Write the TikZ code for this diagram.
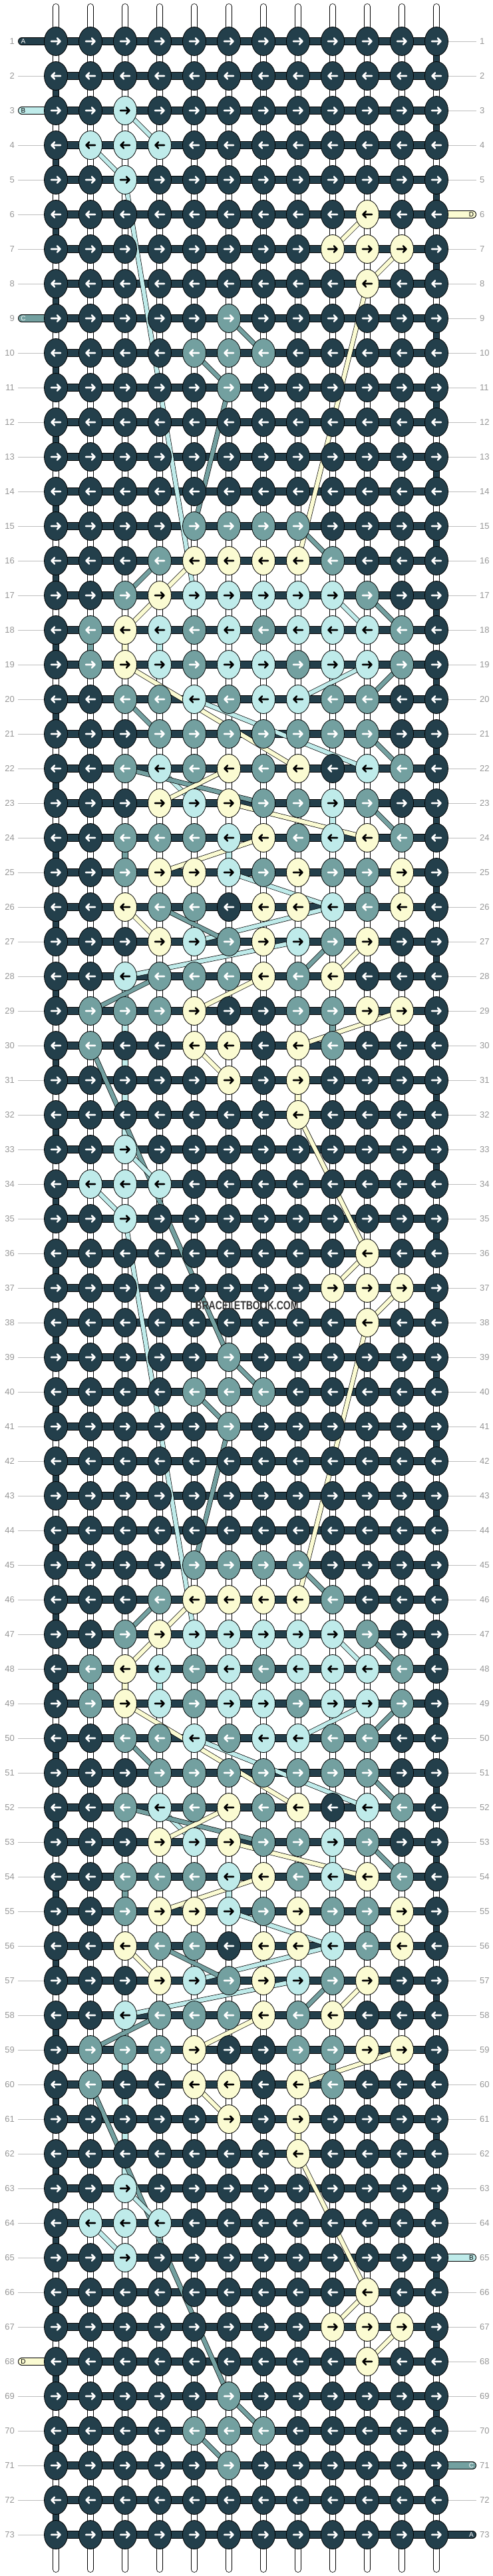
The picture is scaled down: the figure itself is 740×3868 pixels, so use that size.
\documentclass[tikz,border=0pt]{standalone}
\usepackage{fontspec}
\usepackage{graphicx}
\setmainfont{Liberation Sans}
\usetikzlibrary{shapes.geometric}

\definecolor{knot-dark}{RGB}{35, 63, 75}
\definecolor{knot-cyan}{RGB}{191, 235, 234}
\definecolor{knot-teal}{RGB}{115, 160, 160}
\definecolor{knot-yellow}{RGB}{251, 251, 210}
\definecolor{label-gray}{RGB}{150, 150, 150}
\definecolor{line-gray}{RGB}{190, 190, 190}
\definecolor{mark-gray}{RGB}{55, 55, 55}

% knot colours of one pattern row, left to right
\newcommand\setknotrow[2]{\expandafter\def\csname knotrow#1\endcsname{#2}}
\setknotrow{0}{A,A,A,A,A,A,A,A,A,A,A,A}
\setknotrow{3}{A,A,B,A,A,A,A,A,A,A,A,A}
\setknotrow{4}{A,B,B,B,A,A,A,A,A,A,A,A}
\setknotrow{5}{A,A,B,A,A,A,A,A,A,A,A,A}
\setknotrow{6}{A,A,A,A,A,A,A,A,A,D,A,A}
\setknotrow{7}{A,A,A,A,A,A,A,A,D,D,D,A}
\setknotrow{8}{A,A,A,A,A,A,A,A,A,D,A,A}
\setknotrow{9}{A,A,A,A,A,C,A,A,A,A,A,A}
\setknotrow{10}{A,A,A,A,C,C,C,A,A,A,A,A}
\setknotrow{11}{A,A,A,A,A,C,A,A,A,A,A,A}
\setknotrow{12}{A,A,A,A,A,A,A,A,A,A,A,A}
\setknotrow{13}{A,A,A,A,A,A,A,A,A,A,A,A}
\setknotrow{14}{A,A,A,A,A,A,A,A,A,A,A,A}
\setknotrow{15}{A,A,A,A,C,C,C,C,A,A,A,A}
\setknotrow{16}{A,A,A,C,D,D,D,D,C,A,A,A}
\setknotrow{17}{A,A,C,D,B,B,B,B,B,C,A,A}
\setknotrow{18}{A,C,D,B,C,B,C,B,B,B,C,A}
\setknotrow{19}{A,C,D,B,C,B,B,C,B,B,C,A}
\setknotrow{20}{A,A,C,C,B,C,B,B,C,C,A,A}
\setknotrow{21}{A,A,A,C,C,C,C,C,C,C,A,A}
\setknotrow{22}{A,A,C,B,C,D,C,D,A,B,C,A}
\setknotrow{23}{A,A,A,D,B,D,C,C,B,C,A,A}
\setknotrow{24}{A,A,C,C,C,B,D,C,B,D,C,A}
\setknotrow{25}{A,A,C,D,D,B,C,D,C,C,D,A}
\setknotrow{26}{A,A,D,C,C,A,D,D,B,C,D,A}
\setknotrow{27}{A,A,A,D,B,C,D,B,C,D,A,A}
\setknotrow{28}{A,A,B,C,C,C,D,C,D,A,A,A}
\setknotrow{29}{A,C,C,C,D,A,A,C,C,D,D,A}
\setknotrow{30}{A,C,A,A,D,D,A,D,C,A,A,A}
\setknotrow{31}{A,A,A,A,A,D,A,D,A,A,A,A}
\setknotrow{32}{A,A,A,A,A,A,A,D,A,A,A,A}

\begin{document}
\begin{tikzpicture}[
        x=1pt, y=-1pt,
        base/.style={draw=black, line width=0.8pt, double=white, double distance=8pt, line cap=round},
        bar/.style={draw=black, line width=0.8pt, double=knot-dark, double distance=10.4pt},
        pill/.style={draw=black, line width=0.8pt, double distance=10.4pt, line cap=round},
        thread/.style={draw=black, line width=0.7pt, double distance=6pt},
        arrow colour/.store in=\knotarrow,
        knot/.style={shape=ellipse, draw=black, line width=0.8pt, minimum width=35pt,
            minimum height=43pt, inner sep=0pt,
            path picture={
                \begin{scope}[shift={(path picture bounding box.center)}]
                    \draw[draw=\knotarrow, line width=2.6pt, line cap=round, line join=round]
                        ({-7*\arrdir},0) -- ({6.5*\arrdir},0)
                        ({2*\arrdir},-4.6) -- ({6.5*\arrdir},0) -- ({2*\arrdir},4.6);
                \end{scope}}},
        knot A/.style={fill=knot-dark, arrow colour=white},
        knot B/.style={fill=knot-cyan, arrow colour=black},
        knot C/.style={fill=knot-teal, arrow colour=white},
        knot D/.style={fill=knot-yellow, arrow colour=black},
        label line/.style={draw=line-gray, line width=0.8pt},
        row label/.style={text=label-gray, font=\fontsize{13}{13}\selectfont, inner sep=0pt},
        pill tag/.style={font=\fontsize{10}{10}\selectfont, inner sep=0pt},
    ]
    \useasboundingbox (0,0) rectangle (740,3868);

    % grid of knot positions
    \foreach \r in {1,...,73}
        \foreach \c in {1,...,12}
            \coordinate (p-\r-\c) at ({84+52*(\c-1)}, {62+52*(\r-1)});

    % white base strings
    \foreach \c in {1,...,12} {
        \coordinate (top-\c) at ({84+52*(\c-1)}, 10);
        \coordinate (bot-\c) at ({84+52*(\c-1)}, 3858);
        \draw[base] (top-\c) -- (bot-\c);
    }

    % row number lines and bars
    \foreach \r in {1,...,73} {
        \coordinate (ll-\r) at (27, {62+52*(\r-1)});
        \coordinate (rl-\r) at (716, {62+52*(\r-1)});
        \draw[label line] (ll-\r) -- (p-\r-1);
        \draw[label line] (p-\r-12) -- (rl-\r);
        \draw[bar] (p-\r-1) -- (p-\r-12);
    }

    % strings coming in and going out
    \foreach \r/\pc/\ptag/\tc in {1/knot-dark/A/white, 3/knot-cyan/B/black,
            9/knot-teal/C/white, 68/knot-yellow/D/black} {
        \coordinate (in-\r) at (33, {62+52*(\r-1)});
        \draw[pill, double=\pc] (p-\r-1) -- (in-\r);
        \node[pill tag, text=\tc] (tag-in-\r) at (35, {62+52*(\r-1)}) {\ptag};
    }
    \foreach \r/\pc/\ptag/\tc in {6/knot-yellow/D/black, 65/knot-cyan/B/black,
            71/knot-teal/C/white, 73/knot-dark/A/white} {
        \coordinate (out-\r) at (710, {62+52*(\r-1)});
        \draw[pill, double=\pc] (p-\r-12) -- (out-\r);
        \node[pill tag, text=\tc] (tag-out-\r) at (708.5, {62+52*(\r-1)}) {\ptag};
    }

    % background string turning at the edges
    \foreach \r in {1,...,72} {
        \pgfmathtruncatemacro\rn{\r+1}
        \pgfmathtruncatemacro\ec{ifthenelse(mod(\r,2)==1,12,1)}
        \draw[thread, double=knot-dark, double distance=8pt] (p-\r-\ec) -- (p-\rn-\ec);
    }

    % coloured strings between their knots
    \foreach \off in {0,30,60} {
        \foreach \ra/\ca/\rb/\cb/\tc in {
                3/3/4/4/knot-cyan, 4/2/5/3/knot-cyan, 5/3/17/5/knot-cyan,
                17/9/18/10/knot-cyan, 18/4/19/4/knot-cyan, 19/10/20/8/knot-cyan,
                20/5/22/10/knot-cyan, 22/4/23/5/knot-cyan, 23/9/24/9/knot-cyan,
                24/6/25/6/knot-cyan, 25/6/26/9/knot-cyan, 26/9/27/5/knot-cyan,
                27/8/28/3/knot-cyan, 28/3/33/3/knot-cyan,
                9/6/10/7/knot-teal, 10/5/11/6/knot-teal, 11/6/15/5/knot-teal,
                15/8/16/9/knot-teal, 16/4/17/3/knot-teal, 17/10/18/11/knot-teal,
                18/2/19/2/knot-teal, 19/11/20/10/knot-teal, 20/3/21/4/knot-teal,
                21/10/22/11/knot-teal, 22/3/23/7/knot-teal, 23/10/24/11/knot-teal,
                24/3/25/3/knot-teal, 25/10/26/10/knot-teal, 26/4/27/6/knot-teal,
                27/9/28/8/knot-teal, 28/4/29/2/knot-teal, 29/9/30/9/knot-teal,
                30/2/39/6/knot-teal,
                6/10/7/9/knot-yellow, 7/11/8/10/knot-yellow, 8/10/16/8/knot-yellow,
                16/5/17/4/knot-yellow, 17/4/18/3/knot-yellow, 18/3/19/3/knot-yellow,
                19/3/22/8/knot-yellow, 22/6/23/4/knot-yellow, 23/6/24/10/knot-yellow,
                24/7/25/4/knot-yellow, 25/11/26/11/knot-yellow, 26/3/27/4/knot-yellow,
                27/10/28/9/knot-yellow, 28/7/29/5/knot-yellow, 29/11/30/8/knot-yellow,
                30/5/31/6/knot-yellow, 31/8/32/8/knot-yellow, 32/8/36/10/knot-yellow} {
            \pgfmathtruncatemacro\ta{\ra+\off}
            \pgfmathtruncatemacro\tb{\rb+\off}
            \ifnum\tb<72
                \ifnum\ca=\cb
                    \draw[thread, double=\tc, double distance=8pt] (p-\ta-\ca) -- (p-\tb-\cb);
                \else
                    \draw[thread, double=\tc] (p-\ta-\ca) -- (p-\tb-\cb);
                \fi
            \fi
        }
    }

    % knots, arrows right in odd rows and left in even rows
    \foreach \r in {1,...,73} {
        \pgfmathtruncatemacro\p{ifthenelse(or(\r<3,\r>71),0,mod(\r-3,30)+3)}
        \pgfmathtruncatemacro\arrdir{ifthenelse(mod(\r,2)==1,1,-1)}
        \expandafter\let\expandafter\cells\csname knotrow\p\endcsname
        \foreach \k [count=\c] in \cells
            \node[knot, knot \k] (k-\r-\c) at (p-\r-\c) {};
        \node[row label, anchor=east] (nl-\r) at (22, {62+52*(\r-1)}) {\r};
        \node[row label, anchor=west] (nr-\r) at (721, {62+52*(\r-1)}) {\r};
    }

    \node[text=mark-gray, font=\bfseries\fontsize{18}{18}\selectfont, inner sep=0pt]
        (mark) at (371, 1960) {\scalebox{0.78}[1]{BRACELETBOOK.COM}};
\end{tikzpicture}
\end{document}
